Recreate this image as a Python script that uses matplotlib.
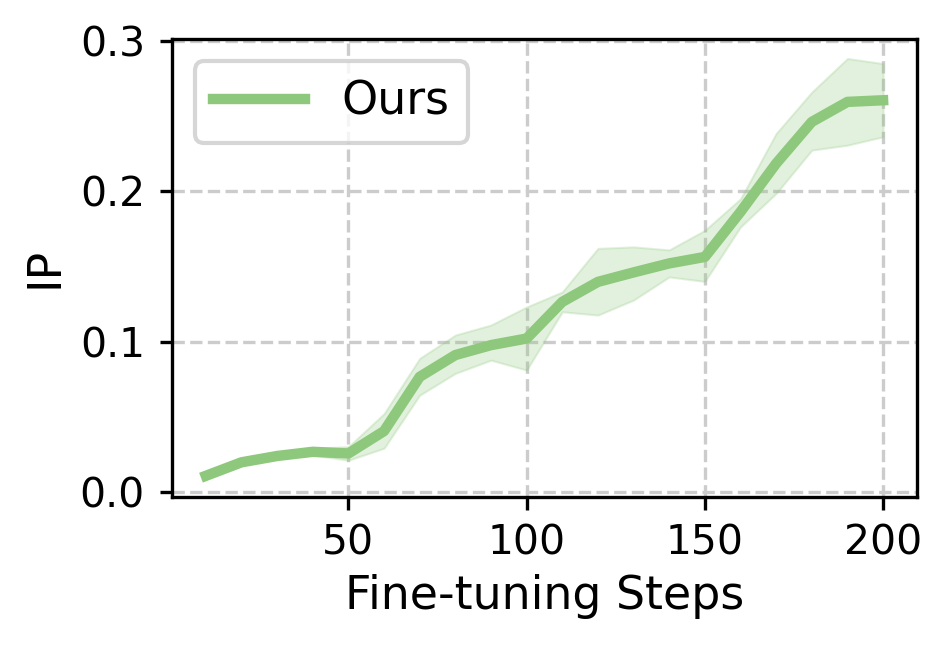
import matplotlib
matplotlib.use("Agg")
import matplotlib.pyplot as plt

# fine-tuning steps and IP values
steps = [10, 20, 30, 40, 50, 60, 70, 80, 90, 100,
         110, 120, 130, 140, 150, 160, 170, 180, 190, 200]
ip_mean = [0.0106, 0.0196, 0.0238, 0.0266, 0.0255, 0.0404, 0.0765, 0.091, 0.0976, 0.102,
           0.1264, 0.1397, 0.146, 0.152, 0.1563, 0.1863, 0.2185, 0.2462, 0.2595, 0.2606]
ip_upper = [0.012, 0.021, 0.025, 0.0289, 0.030, 0.052, 0.0888, 0.1043, 0.111, 0.123,
            0.133, 0.162, 0.163, 0.161, 0.174, 0.195, 0.2385, 0.266, 0.2884, 0.285]
ip_lower = [0.009, 0.018, 0.022, 0.0244, 0.021, 0.029, 0.0643, 0.0788, 0.0876, 0.081,
            0.1198, 0.1176, 0.1276, 0.143, 0.140, 0.1763, 0.1986, 0.2274, 0.2307, 0.2363]

color = '#8dc87c'

fig = plt.figure(figsize=(946 / 300, 646 / 300), dpi=300)
ax = fig.add_axes([0.1818, 0.2311, 0.9693 - 0.1818, 0.9404 - 0.2311])

ax.fill_between(steps, ip_lower, ip_upper, color=color, alpha=0.25, linewidth=0.5)
ax.plot(steps, ip_mean, color=color, linewidth=2.5, label='Ours')

ax.set_xlim(0.5, 209.5)
ax.set_ylim(-0.0033, 0.3017)
ax.set_xticks([50, 100, 150, 200])
ax.set_yticks([0.0, 0.1, 0.2, 0.3])
ax.tick_params(labelsize=9.8, length=3)
ax.grid(True, linestyle='--', color='#cccccc', linewidth=0.8)
ax.set_axisbelow(True)

ax.set_xlabel('Fine-tuning Steps', fontsize=11, labelpad=2.5)
ax.set_ylabel('IP', fontsize=11, labelpad=3)
ax.legend(loc='upper left', fontsize=11)

plt.savefig('out.png', dpi=300)
